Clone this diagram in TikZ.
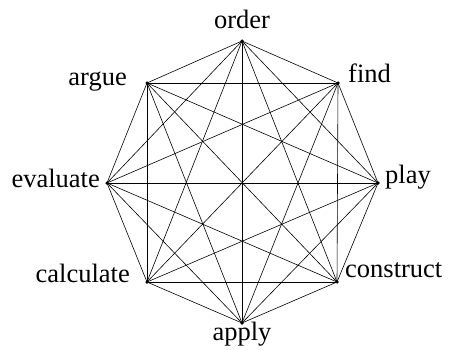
\documentclass[tikz,border=0pt]{standalone}
\usepackage{fontspec}
\setmainfont{Liberation Serif}
\begin{document}
\begin{tikzpicture}[x=1pt,y=1pt,
  vertex/.style={circle,fill=black,inner sep=0pt,minimum size=3.5pt},
  word/.style={font=\fontsize{26.5}{30}\selectfont,inner sep=0pt},
  edge/.style={line width=0.6pt}]
\useasboundingbox (0,0) rectangle (449,349);
% the eight corners of the octagon
\node[vertex] (order)     at (242,308) {};
\node[vertex] (find)      at (338,266) {};
\node[vertex] (play)      at (378,166) {};
\node[vertex] (construct) at (337,67) {};
\node[vertex] (apply)     at (242,26) {};
\node[vertex] (calculate) at (147,67) {};
\node[vertex] (evaluate)  at (107,166) {};
\node[vertex] (argue)     at (147,266) {};
% every corner joined to every other
\foreach \a [count=\i] in {order,find,play,construct,apply,calculate,evaluate,argue}
  \foreach \b [count=\j] in {order,find,play,construct,apply,calculate,evaluate,argue}
    {\ifnum\j>\i \draw[edge] (\a.center) -- (\b.center); \fi}
% labels
\node[word,anchor=base] (orderlab) at ([yshift=12]order) {order};
\node[word,anchor=base west] (findlab) at ([xshift=10,yshift=1]find) {find};
\node[word,anchor=base west] (playlab) at ([xshift=7]play) {play};
\node[word,anchor=base west] (constructlab) at ([xshift=8,yshift=5]construct) {construct};
\node[word,anchor=base] (applylab) at ([yshift=-17]apply) {apply};
\node[word,anchor=base east] (calculatelab) at ([xshift=-17]calculate) {calculate};
\node[word,anchor=base east] (evaluatelab) at ([xshift=-7,yshift=-4]evaluate) {evaluate};
\node[word,anchor=base east] (arguelab) at ([xshift=-20,yshift=-2]argue) {argue};
\end{tikzpicture}
\end{document}
